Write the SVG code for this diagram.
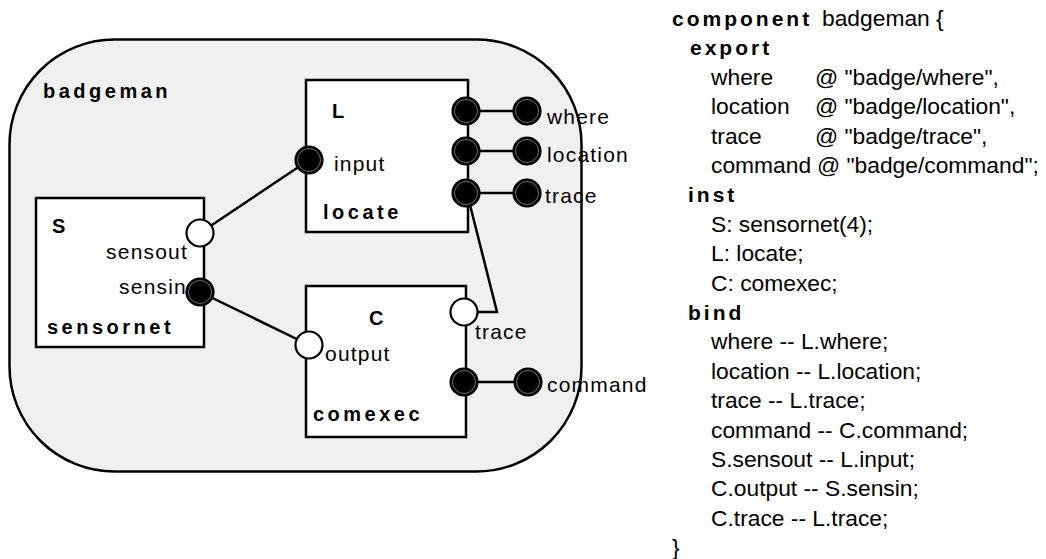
<svg xmlns="http://www.w3.org/2000/svg" width="1046" height="559" viewBox="0 0 1046 559">
<style>
text{font-family:"Liberation Sans",Arial,sans-serif;fill:#000}
.lbl{font-size:21px;letter-spacing:1.2px}
.bl{font-size:20px;font-weight:bold;letter-spacing:3.5px}
.code{font-size:22.8px}
.kw{font-size:21px;font-weight:bold;letter-spacing:3px}
.box{fill:#fff;stroke:#000;stroke-width:2.5}
.wire{fill:none;stroke:#000;stroke-width:2.5}
.po{fill:#fff;stroke:#000;stroke-width:2.2}
.pf{fill:#000;stroke:#000;stroke-width:2.2}
.pr{fill:none;stroke:#8a8a8a;stroke-width:0.8}
</style>
<defs>
<g id="fport"><circle class="pf" r="13.5"/><circle class="pr" r="11.5"/></g>
</defs>
<g id="badgeman">
<rect x="9.5" y="39.5" width="572" height="432" rx="105" ry="105" fill="#f0f0f0" stroke="#000" stroke-width="2.5"/>
<text class="bl" x="43" y="98">badgeman</text>
</g>
<g id="connectors">
<line class="wire" x1="200" y1="233" x2="309" y2="160"/>
<line class="wire" x1="200" y1="292" x2="309" y2="345"/>
<polyline class="wire" points="467,193 497,312 464,312"/>
<line class="wire" x1="466" y1="111" x2="527" y2="111"/>
<line class="wire" x1="466" y1="151" x2="527" y2="151"/>
<line class="wire" x1="466" y1="193" x2="527" y2="193"/>
<line class="wire" x1="464" y1="382" x2="528" y2="382"/>
</g>
<g id="S">
<rect class="box" x="36" y="198" width="168" height="149"/>
<text class="bl" x="52" y="233">S</text>
<text class="lbl" x="188" y="259" text-anchor="end">sensout</text>
<text class="lbl" x="187" y="294" text-anchor="end">sensin</text>
<text class="bl" x="47" y="334">sensornet</text>
<circle class="po" cx="200" cy="233" r="13.5"/>
<use href="#fport" x="200" y="292"/>
</g>
<g id="L">
<rect class="box" x="306" y="80" width="162" height="152"/>
<text class="bl" x="332" y="118">L</text>
<text class="lbl" x="334" y="171">input</text>
<text class="bl" x="323" y="219">locate</text>
<use href="#fport" x="309" y="160"/>
<use href="#fport" x="466" y="111"/>
<use href="#fport" x="466" y="151"/>
<use href="#fport" x="466" y="193"/>
</g>
<g id="C">
<rect class="box" x="306" y="286" width="160" height="151"/>
<text class="bl" x="369" y="325">C</text>
<text class="lbl" x="325" y="361">output</text>
<text class="bl" x="313" y="421">comexec</text>
<circle class="po" cx="309" cy="345" r="13.5"/>
<circle class="po" cx="464" cy="312" r="13.5"/>
<text class="lbl" x="475" y="339">trace</text>
<use href="#fport" x="464" y="382"/>
</g>
<g id="exports">
<use href="#fport" x="527" y="111"/>
<use href="#fport" x="527" y="151"/>
<use href="#fport" x="527" y="193"/>
<use href="#fport" x="528" y="382"/>
<text class="lbl" x="547" y="124">where</text>
<text class="lbl" x="547" y="162">location</text>
<text class="lbl" x="545" y="203">trace</text>
<text class="lbl" x="547" y="392">command</text>
</g>
<g id="code">
<text x="672" y="26"><tspan class="kw">component</tspan><tspan class="code" x="822">badgeman {</tspan></text>
<text class="kw" x="690" y="55.4">export</text>
<text class="code" x="711" y="84.8">where<tspan x="815">@ "badge/where",</tspan></text>
<text class="code" x="711" y="114.2">location<tspan x="815">@ "badge/location",</tspan></text>
<text class="code" x="711" y="143.6">trace<tspan x="815">@ "badge/trace",</tspan></text>
<text class="code" x="711" y="173">command<tspan x="817">@ "badge/command";</tspan></text>
<text class="kw" x="688" y="202.4">inst</text>
<text class="code" x="711" y="231.8">S: sensornet(4);</text>
<text class="code" x="711" y="261.2">L: locate;</text>
<text class="code" x="711" y="290.6">C: comexec;</text>
<text class="kw" x="688" y="320">bind</text>
<text class="code" x="711" y="349.4">where -- L.where;</text>
<text class="code" x="711" y="378.8">location -- L.location;</text>
<text class="code" x="711" y="408.2">trace -- L.trace;</text>
<text class="code" x="711" y="437.6">command -- C.command;</text>
<text class="code" x="711" y="467">S.sensout -- L.input;</text>
<text class="code" x="711" y="496.4">C.output -- S.sensin;</text>
<text class="code" x="711" y="525.8">C.trace -- L.trace;</text>
<text class="code" x="672" y="555">}</text>
</g>
</svg>
